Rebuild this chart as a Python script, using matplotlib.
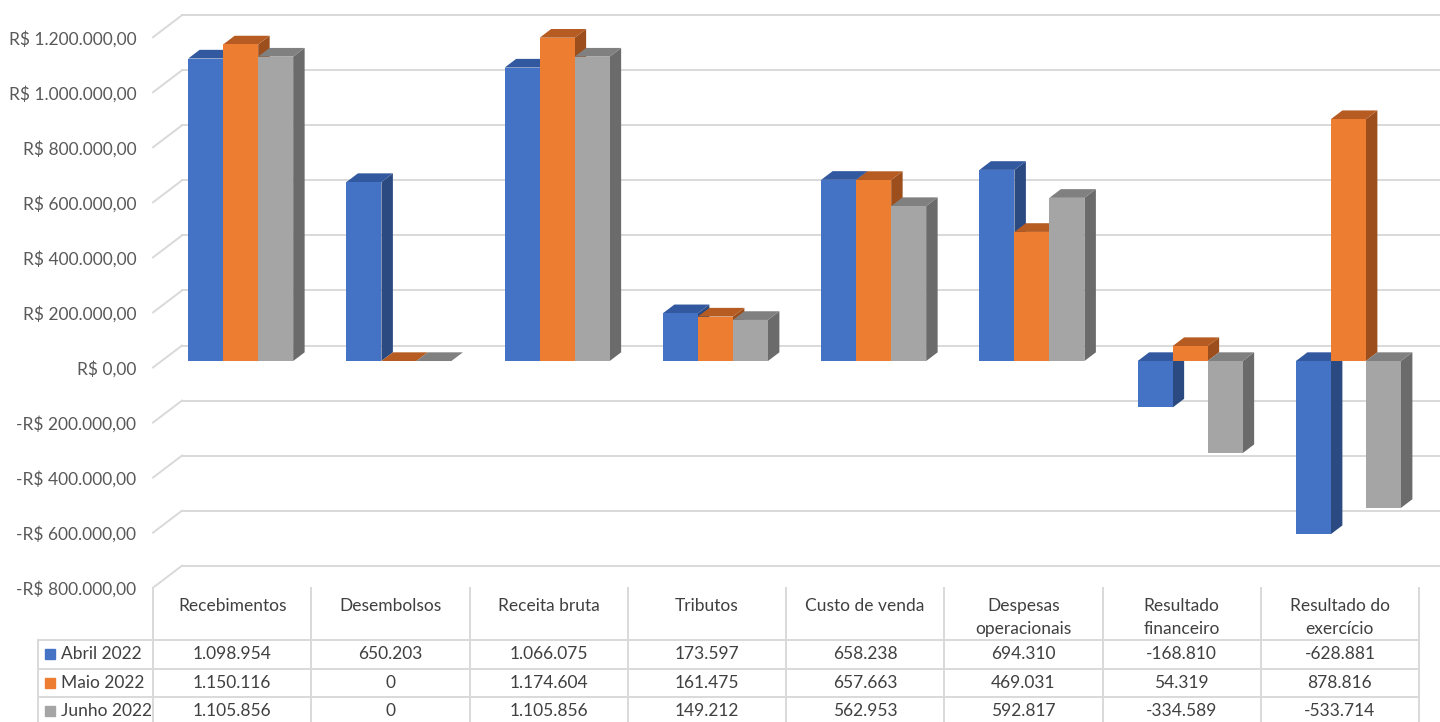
import numpy as np
import matplotlib
matplotlib.use("Agg")
import matplotlib.pyplot as plt
from matplotlib.transforms import blended_transform_factory

# dados do grafico
categorias = ["Recebimentos", "Desembolsos", "Receita bruta", "Tributos",
              "Custo de venda", "Despesas\noperacionais", "Resultado\nfinanceiro",
              "Resultado do\nexercício"]
series = ["Abril 2022", "Maio 2022", "Junho 2022"]
abril = [1098954, 650203, 1066075, 173597, 658238, 694310, -168810, -628881]
maio = [1150116, 0, 1174604, 161475, 657663, 469031, 54319, 878816]
junho = [1105856, 0, 1105856, 149212, 562953, 592817, -334589, -533714]
valores = [abril, maio, junho]
yticks = np.arange(-800000, 1200001, 200000)

cor_frente = ["#4472C4", "#ED7D31", "#A5A5A5"]
cor_topo = ["#3259A0", "#B65C22", "#808080"]
cor_lado = ["#2B4A82", "#9C4F1D", "#6B6B6B"]
cor_grade = "#D9D9D9"
cor_texto = "#595959"
cor_tabela = "#404040"
fonte = "Lato"

W, H = 1440, 722
fig = plt.figure(figsize=(W / 100, H / 100), dpi=100)
ax = fig.add_axes([153 / W, (H - 587.7) / H, 1266 / W, 550.5 / H])
ax.set_xlim(-0.5, 7.5)
ax.set_ylim(-800000, 1200000)

# profundidade da caixa 3D (projecao obliqua) em unidades de dados
px_x = 1266 / 8          # pixels por categoria
px_y = 550.5 / 2000000   # pixels por real
DX = 29 / px_x
DY = 22 / px_y
f0, f1 = 0.295, 0.69     # frente e fundo das barras (fracao da profundidade)
larg = 35 / px_x


def moeda(v):
    s = f"{abs(v):,.2f}".replace(",", "X").replace(".", ",").replace("X", ".")
    return ("-R$ " if v < 0 else "R$ ") + s


def milhar(v):
    return f"{v:,}".replace(",", ".")


# grade no fundo e na parede esquerda
for v in yticks:
    ax.plot([-0.5 + DX, 7.5 + DX], [v + DY, v + DY], color=cor_grade, lw=1.4,
            zorder=1, clip_on=False)
    ax.plot([-0.5, -0.5 + DX], [v, v + DY], color=cor_grade, lw=1.4,
            zorder=1, clip_on=False)

# barras 3D
ddx = (f1 - f0) * DX
ddy = (f1 - f0) * DY
for j, serie in enumerate(valores):
    for i, v in enumerate(serie):
        xl = i + (j - 1.5) * larg + f0 * DX
        xr = xl + larg
        base = f0 * DY
        y0 = base + min(v, 0)
        y1 = base + max(v, 0)
        z = 2 + j
        ax.fill([xr, xr, xr + ddx, xr + ddx], [y0, y1, y1 + ddy, y0 + ddy],
                color=cor_lado[j], lw=0, zorder=z, clip_on=False)
        ax.fill([xl, xr, xr + ddx, xl + ddx], [y1, y1, y1 + ddy, y1 + ddy],
                color=cor_topo[j], lw=0, zorder=z, clip_on=False)
        if v != 0:
            ax.bar(xl, v, bottom=base, width=larg, align="edge",
                   color=cor_frente[j], lw=0, zorder=z + 0.5, clip_on=False)

# eixo y
ax.set_yticks(yticks)
ax.set_yticklabels([moeda(v) for v in yticks])
ax.tick_params(axis="y", length=0, pad=12, labelsize=12.5, labelcolor=cor_texto)
for lab in ax.get_yticklabels():
    lab.set_fontfamily(fonte)
ax.set_xticks([])
for s in ax.spines.values():
    s.set_visible(False)
ax.patch.set_alpha(0)

# tabela de dados
tr = blended_transform_factory(ax.transData, fig.transFigure)


def yf(p):
    return 1 - p / H


x_esq = -0.5 - 115 / px_x
linhas_y = [640, 669, 697]
for p in linhas_y:
    ax.plot([x_esq, 7.5], [yf(p), yf(p)], color=cor_grade, lw=1.4,
            transform=tr, clip_on=False)
for k in range(9):
    ax.plot([k - 0.5, k - 0.5], [yf(588), yf(H)], color=cor_grade, lw=1.4,
            transform=tr, clip_on=False)
ax.plot([x_esq, x_esq], [yf(640), yf(H)], color=cor_grade, lw=1.4,
        transform=tr, clip_on=False)

for i, cat in enumerate(categorias):
    ax.text(i, yf(598), cat, ha="center", va="top", fontsize=12.5,
            family=fonte, color=cor_tabela, linespacing=1.52, transform=tr)

centros_y = [654, 683, 711]
for j, nome in enumerate(series):
    yc = yf(centros_y[j])
    ax.add_patch(plt.Rectangle((45 / W, yc - 5 / H), 10 / W, 10 / H,
                               transform=fig.transFigure, color=cor_frente[j],
                               clip_on=False))
    fig.text(61 / W, yc, nome, ha="left", va="center", fontsize=12.5,
             family=fonte, color=cor_tabela)
    for i, v in enumerate(valores[j]):
        ax.text(i, yc, milhar(v), ha="center", va="center", fontsize=12.5,
                family=fonte, color=cor_tabela, transform=tr)

fig.savefig("out.png", dpi=100)
